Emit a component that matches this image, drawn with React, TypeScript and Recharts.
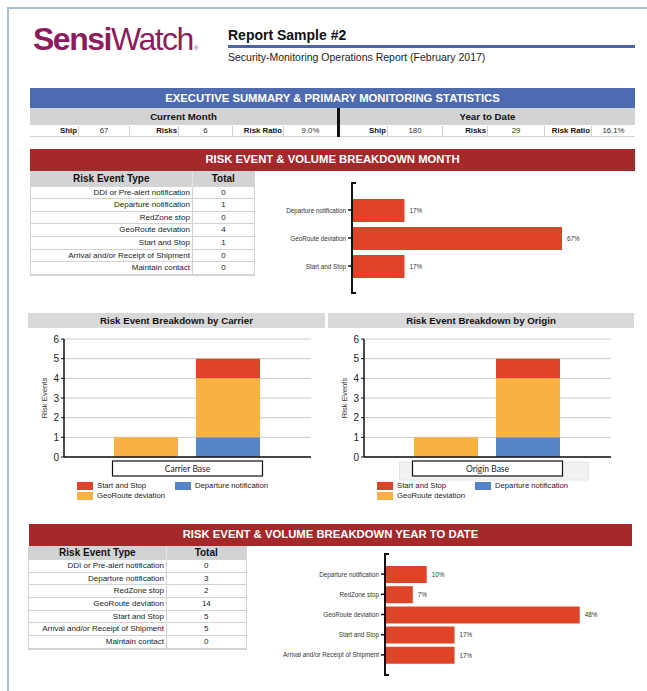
import React from 'react'
import { BarChart, Bar, XAxis, YAxis, CartesianGrid, LabelList, Legend } from 'recharts'

const riskEventTypes = [
  'DDI or Pre-alert notification',
  'Departure notification',
  'RedZone stop',
  'GeoRoute deviation',
  'Start and Stop',
  'Arrival and/or Receipt of Shipment',
  'Maintain contact',
]
const monthTotals = [0, 1, 0, 4, 1, 0, 0]
const ytdTotals = [0, 3, 2, 14, 5, 5, 0]

const summaryLabels = ['Ship', 'Risks', 'Risk Ratio']
const currentMonthValues = ['67', '6', '9.0%']
const yearToDateValues = ['180', '29', '16.1%']

const carrierNames = ['Carrier A', 'Carrier B']
const originNames = ['Origin A', 'Origin B']
const departureCounts = [0, 1]
const geoRouteCounts = [1, 3]
const startStopCounts = [0, 1]
const countTicks = [0, 1, 2, 3, 4, 5, 6]

const legendOrder = ['Start and Stop', 'Departure notification', 'GeoRoute deviation']

const FONT = '"Liberation Sans", Arial, Helvetica, sans-serif'
const BAR_RED = '#df4428'
const BAR_YELLOW = '#f7b242'
const BAR_BLUE = '#5585c7'
const HEAD_RED = '#a5292b'
const HEAD_BLUE = '#4e6ab0'
const HEAD_GREY = '#d2d3d5'
const LINE_GREY = '#d3d3d3'

function shareData(totals: number[]) {
  const sum = totals.reduce((a, b) => a + b, 0)
  return riskEventTypes
    .map((type, i) => ({ type, pct: (totals[i] / sum) * 100 }))
    .filter((d) => d.pct > 0)
}

function SectionHeader({ text, left, top, width, height, color }: any) {
  return (
    <div
      style={{
        position: 'absolute', left, top, width, height, background: color, color: '#fff',
        fontWeight: 'bold', fontSize: 11.3, lineHeight: `${height}px`, textAlign: 'center',
      }}
    >
      {text}
    </div>
  )
}

function SummaryHalf({ title, values, left, widths }: any) {
  const total = widths.reduce((a: number, b: number) => a + b, 0)
  return (
    <div style={{ position: 'absolute', left, top: 108, width: total }}>
      <div style={{ height: 17, background: HEAD_GREY, textAlign: 'center', fontWeight: 'bold', fontSize: 9.7, lineHeight: '17px' }}>
        {title}
      </div>
      <div style={{ display: 'flex', height: 11, borderBottom: `1px solid ${LINE_GREY}`, boxSizing: 'border-box', marginTop: 1 }}>
        {summaryLabels.map((label, i) => (
          <React.Fragment key={label}>
            <div style={{ width: widths[i * 2], textAlign: 'right', fontWeight: 'bold', fontSize: 7.8, lineHeight: '10px', paddingRight: 1, boxSizing: 'border-box', borderRight: `1px solid ${LINE_GREY}` }}>
              {label}
            </div>
            <div style={{ width: widths[i * 2 + 1], textAlign: 'center', fontSize: 7.8, lineHeight: '10px', color: '#333', boxSizing: 'border-box', borderRight: i < 2 ? `1px solid ${LINE_GREY}` : 'none' }}>
              {values[i]}
            </div>
          </React.Fragment>
        ))}
      </div>
    </div>
  )
}

function RiskTable({ totals, left, top, widths, headerHeight }: any) {
  const rowH = 12.67
  return (
    <div style={{ position: 'absolute', left, top, width: widths[0] + widths[1], border: `1px solid ${LINE_GREY}`, borderTop: 'none', boxSizing: 'border-box' }}>
      <div style={{ display: 'flex', height: headerHeight, background: HEAD_GREY, fontWeight: 'bold', fontSize: 10, lineHeight: `${headerHeight}px` }}>
        <div style={{ width: widths[0], textAlign: 'center', borderRight: '1px solid #e6e6e6', boxSizing: 'border-box' }}>Risk Event Type</div>
        <div style={{ width: widths[1], textAlign: 'center' }}>Total</div>
      </div>
      {riskEventTypes.map((type, i) => (
        <div key={type} style={{ display: 'flex', height: rowH, borderBottom: `1px solid ${LINE_GREY}`, boxSizing: 'border-box', fontSize: 8, lineHeight: `${rowH - 1}px`, color: '#222' }}>
          <div style={{ width: widths[0] - 1, textAlign: 'right', paddingRight: 2, borderRight: `1px solid ${LINE_GREY}`, boxSizing: 'border-box' }}>{type}</div>
          <div style={{ width: widths[1] - 1, textAlign: 'center' }}>{totals[i]}</div>
        </div>
      ))}
    </div>
  )
}

const shareTick = (props: any) => (
  <text x={props.x} y={props.y} textAnchor="end" dominantBaseline="central" fontSize={6.3} fill="#333">
    {props.payload?.value}
  </text>
)

function ShareChart({ totals, left, top, axisWidth, plotWidth, plotHeight, pad, barSize, xMax }: any) {
  const data = shareData(totals)
  const margin = { top: 13, right: 20, bottom: 8, left: 0 }
  const width = margin.left + axisWidth + plotWidth + margin.right
  const height = margin.top + plotHeight + margin.bottom
  return (
    <div style={{ position: 'absolute', left, top, width, height }}>
      <BarChart layout="vertical" width={width} height={height} data={data} margin={margin}>
        <XAxis type="number" domain={[0, xMax]} hide />
        <YAxis
          type="category"
          dataKey="type"
          width={axisWidth}
          interval={0}
          padding={{ top: pad, bottom: pad }}
          tick={shareTick}
          tickSize={4}
          tickMargin={2}
          axisLine={{ stroke: '#111', strokeWidth: 2 }}
          tickLine={{ stroke: '#111', strokeWidth: 1.5 }}
        />
        <Bar dataKey="pct" fill={BAR_RED} barSize={barSize} isAnimationActive={false}>
          <LabelList
            dataKey="pct"
            position="right"
            offset={5}
            fontSize={6.3}
            fill="#333"
            formatter={(v: any) => `${Math.round(Number(v))}%`}
          />
        </Bar>
      </BarChart>
      {/* bracket ends on the category axis */}
      <div
        style={{
          position: 'absolute', left: margin.left + axisWidth - 1, top: margin.top - 1, width: 5,
          height: plotHeight + 2, borderTop: '2px solid #111', borderBottom: '2px solid #111', boxSizing: 'border-box',
        }}
      />
    </div>
  )
}

function StackLegend({ payload }: any) {
  const items = legendOrder
    .map((name) => (payload || []).find((p: any) => p.value === name))
    .filter(Boolean)
  return (
    <div style={{ display: 'grid', gridTemplateColumns: '98px 120px', rowGap: 2 }}>
      {items.map((p: any) => (
        <div key={p.value} style={{ display: 'flex', alignItems: 'center', height: 8 }}>
          <span style={{ width: 16, height: 8, background: p.color, display: 'inline-block' }} />
          <span style={{ marginLeft: 4, fontSize: 7.7, color: '#222', lineHeight: '8px' }}>{p.value}</span>
        </div>
      ))}
    </div>
  )
}

function StackedChart({ title, names, left, titleWidth, axisTitle, backing }: any) {
  const data = names.map((name: string, i: number) => ({
    name,
    departure: departureCounts[i],
    geoRoute: geoRouteCounts[i],
    startStop: startStopCounts[i],
  }))
  const boxLabel = (props: any) => {
    const vb = props.viewBox || {}
    const cx = vb.x + vb.width / 2
    const y = vb.y + 4
    return (
      <g>
        {backing && <rect x={cx - 88} y={y + 1} width={189} height={18} fill="#f1f1f1" stroke="#e4e4e4" />}
        <rect x={cx - 75} y={y} width={150} height={15} fill="#fff" stroke="#111" strokeWidth={1.2} />
        <text x={cx} y={y + 10.5} textAnchor="middle" fontSize={8.5} fill="#222" style={{ fontFamily: 'Lato, "Open Sans", sans-serif' }}>
          {axisTitle}
        </text>
      </g>
    )
  }
  const yLabel = (props: any) => {
    const vb = props.viewBox || {}
    const x = vb.x + 16
    const y = vb.y + vb.height / 2
    return (
      <text x={x} y={y} transform={`rotate(-90, ${x}, ${y})`} textAnchor="middle" dominantBaseline="central" fontSize={7.7} fill="#333">
        Risk Events
      </text>
    )
  }
  return (
    <div style={{ position: 'absolute', left, top: 313 }}>
      <div style={{ width: titleWidth, height: 15, background: '#d9d9d9', fontWeight: 'bold', fontSize: 9.7, lineHeight: '15px', textAlign: 'center' }}>
        {title}
      </div>
      <div style={{ position: 'absolute', left: 0, top: 17 }}>
        <BarChart width={291} height={169} data={data} margin={{ top: 9, right: 8, bottom: 0, left: 0 }}>
          <CartesianGrid vertical={false} stroke="#c8c8c8" />
          <XAxis
            dataKey="name"
            tick={false}
            tickSize={4}
            height={22}
            padding={{ left: 41, right: 42 }}
            axisLine={{ stroke: '#111', strokeWidth: 1.5 }}
            tickLine={{ stroke: '#111' }}
            label={boxLabel}
          />
          <YAxis
            domain={[0, 6]}
            ticks={countTicks}
            interval={0}
            width={36}
            tickSize={3}
            tickMargin={2}
            tick={{ fontSize: 10, fill: '#222' }}
            axisLine={{ stroke: '#111', strokeWidth: 1.5 }}
            tickLine={{ stroke: '#111' }}
            label={yLabel}
          />
          <Legend
            verticalAlign="bottom"
            align="left"
            height={20}
            wrapperStyle={{ left: 49, top: 151.7, width: 230 }}
            content={(props: any) => <StackLegend payload={props.payload} />}
          />
          <Bar dataKey="departure" name="Departure notification" stackId="s" fill={BAR_BLUE} barSize={64} isAnimationActive={false} />
          <Bar dataKey="geoRoute" name="GeoRoute deviation" stackId="s" fill={BAR_YELLOW} barSize={64} isAnimationActive={false} />
          <Bar dataKey="startStop" name="Start and Stop" stackId="s" fill={BAR_RED} barSize={64} isAnimationActive={false} />
        </BarChart>
      </div>
    </div>
  )
}

export default function App() {
  return (
    <div style={{ position: 'absolute', left: 0, top: 0, width: 647, height: 691, background: '#fff', overflow: 'hidden', fontFamily: FONT, color: '#111' }}>
      {/* page frame */}
      <div style={{ position: 'absolute', left: 7, top: 7, width: 640, height: 2, background: '#a9bfd2' }} />
      <div style={{ position: 'absolute', left: 7, top: 7, width: 2, height: 684, background: '#a9bfd2' }} />

      {/* logo */}
      <div style={{ position: 'absolute', left: 33, top: 20, fontSize: 32, lineHeight: '38px', color: '#8d1c5e', letterSpacing: -1.5, whiteSpace: 'nowrap' }}>
        <span style={{ fontWeight: 'bold' }}>Sensi</span>
        <span>Watch</span>
        <span style={{ fontSize: 6, letterSpacing: 0, verticalAlign: 'baseline', marginLeft: 1 }}>®</span>
      </div>

      <div style={{ position: 'absolute', left: 228, top: 27, fontSize: 14, lineHeight: '16px', fontWeight: 'bold' }}>Report Sample #2</div>
      <div style={{ position: 'absolute', left: 228, top: 45, width: 407, height: 3, background: '#4c64aa' }} />
      <div style={{ position: 'absolute', left: 228, top: 51, fontSize: 10.5, lineHeight: '13px', color: '#222' }}>
        Security-Monitoring Operations Report (February 2017)
      </div>

      {/* executive summary */}
      <SectionHeader text="EXECUTIVE SUMMARY & PRIMARY MONITORING STATISTICS" left={30} top={88} width={605} height={20} color={HEAD_BLUE} />
      <SummaryHalf title="Current Month" values={currentMonthValues} left={30} widths={[49, 51, 49, 54, 51, 53]} />
      <SummaryHalf title="Year to Date" values={yearToDateValues} left={340} widths={[48, 55, 45, 57, 47, 43]} />
      <div style={{ position: 'absolute', left: 337, top: 108, width: 3, height: 29, background: '#111' }} />

      {/* month breakdown */}
      <SectionHeader text="RISK EVENT & VOLUME BREAKDOWN MONTH" left={30} top={149} width={605} height={21.5} color={HEAD_RED} />
      <RiskTable totals={monthTotals} left={30} top={170.5} widths={[163, 62]} headerHeight={16} />
      <ShareChart totals={monthTotals} left={270} top={170} axisWidth={82} plotWidth={252} plotHeight={110} pad={13} barSize={23} xMax={80} />

      <StackedChart title="Risk Event Breakdown by Carrier" names={carrierNames} left={28} titleWidth={297} axisTitle="Carrier Base" />
      <StackedChart title="Risk Event Breakdown by Origin" names={originNames} left={328} titleWidth={306} axisTitle="Origin Base" backing />

      {/* year to date breakdown */}
      <SectionHeader text="RISK EVENT & VOLUME BREAKDOWN YEAR TO DATE" left={29} top={524} width={603} height={21.7} color={HEAD_RED} />
      <RiskTable totals={ytdTotals} left={28} top={545.7} widths={[139, 79.7]} headerHeight={14.3} />
      <ShareChart totals={ytdTotals} left={270} top={541} axisWidth={115} plotWidth={242} plotHeight={121} pad={10} barSize={17} xMax={60} />
    </div>
  )
}
